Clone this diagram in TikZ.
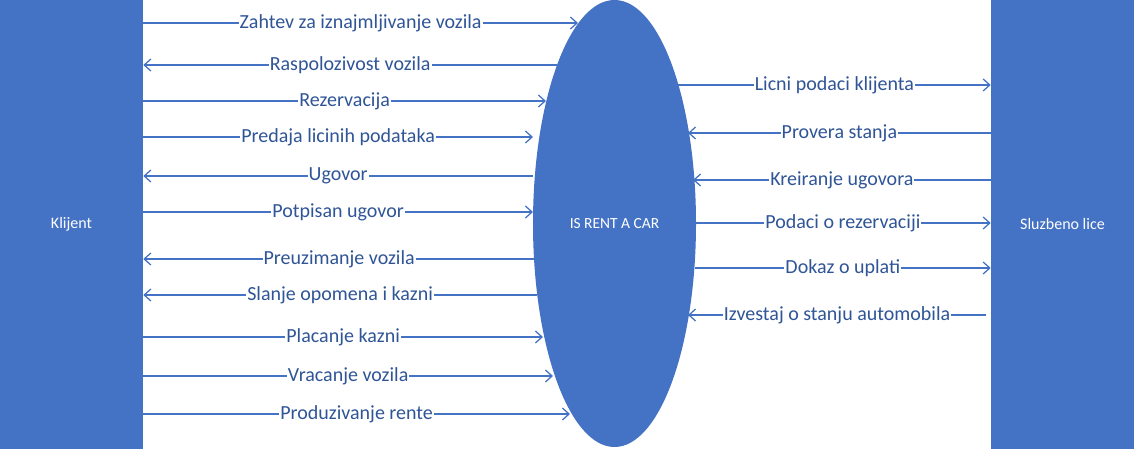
\documentclass[tikz,border=0pt]{standalone}
\usepackage{fontspec}
\setmainfont{Carlito}
\usetikzlibrary{positioning,arrows.meta,shapes.geometric}
\definecolor{flowblue}{RGB}{68,114,196}
\definecolor{lblblue}{RGB}{47,85,151}

\begin{document}
\begin{tikzpicture}[
  x=0.75pt, y=-0.75pt,
  entity/.style={draw=none, fill=flowblue, text=white, font=\fontsize{12}{14}\selectfont,
    minimum width=107.25pt, minimum height=336.75pt, inner sep=0pt},
  proc/.style={ellipse, draw=none, fill=flowblue, text=white, font=\fontsize{11.6}{13}\selectfont,
    minimum width=122.25pt, minimum height=335.25pt, inner sep=0pt},
  lbl/.style={fill=white, text=lblblue, inner sep=0.8pt, font=\fontsize{15}{17}\selectfont},
  arr/.style={-{Straight Barb[length=5pt, width=9pt]}, draw=flowblue, line width=0.95pt},
]
\useasboundingbox (0,0) rectangle (1134,449);

% ---- external entities and the process ----
\node[entity] (klijent) at (71.5,224.5) {Klijent};
\node[proc] (is) at (614.5,223.5) {IS RENT A CAR};
\node[entity] (lice) at (1062.5,224.5) {Sluzbeno lice};

% ---- free ends next to the ellipse ----
\coordinate (z1) at (578,23);
\coordinate (z2) at (557,65);
\coordinate (z3) at (546,101);
\coordinate (z4) at (533,137);
\coordinate (z5) at (533,176);
\coordinate (z6) at (533,212);
\coordinate (z7) at (535,259);
\coordinate (z8) at (537,295);
\coordinate (z9) at (543,337);
\coordinate (z10) at (553,376);
\coordinate (z11) at (570,414);

\coordinate (d1) at (678,85);
\coordinate (d2) at (688,133);
\coordinate (d3) at (693,180);
\coordinate (d4) at (695,223);
\coordinate (d5) at (695,268);
\coordinate (d6) at (688,315);
\coordinate (e6) at (986,315);

% ---- Klijent <-> IS ----
\draw[arr] (klijent.east |- z1) -- node[lbl]{Zahtev za iznajmljivanje vozila} (z1);
\draw[arr] (z2) -- node[lbl]{Raspolozivost vozila} (klijent.east |- z2);
\draw[arr] (klijent.east |- z3) -- node[lbl]{Rezervacija} (z3);
\draw[arr] (klijent.east |- z4) -- node[lbl]{Predaja licinih podataka} (z4);
\draw[arr] (z5) -- node[lbl]{Ugovor} (klijent.east |- z5);
\draw[arr] (klijent.east |- z6) -- node[lbl]{Potpisan ugovor} (z6);
\draw[arr] (z7) -- node[lbl]{Preuzimanje vozila} (klijent.east |- z7);
\draw[arr] (z8) -- node[lbl]{Slanje opomena i kazni} (klijent.east |- z8);
\draw[arr] (klijent.east |- z9) -- node[lbl]{Placanje kazni} (z9);
\draw[arr] (klijent.east |- z10) -- node[lbl]{Vracanje vozila} (z10);
\draw[arr] (klijent.east |- z11) -- node[lbl]{Produzivanje rente} (z11);

% ---- IS <-> Sluzbeno lice ----
\draw[arr] (d1) -- node[lbl]{Licni podaci klijenta} (lice.west |- d1);
\draw[arr] (lice.west |- d2) -- node[lbl]{Provera stanja} (d2);
\draw[arr] (lice.west |- d3) -- node[lbl]{Kreiranje ugovora} (d3);
\draw[arr] (d4) -- node[lbl]{Podaci o rezervaciji} (lice.west |- d4);
\draw[arr] (d5) -- node[lbl]{Dokaz o uplati} (lice.west |- d5);
\draw[arr] (e6) -- node[lbl]{Izvestaj o stanju automobila} (d6);

\end{tikzpicture}
\end{document}
